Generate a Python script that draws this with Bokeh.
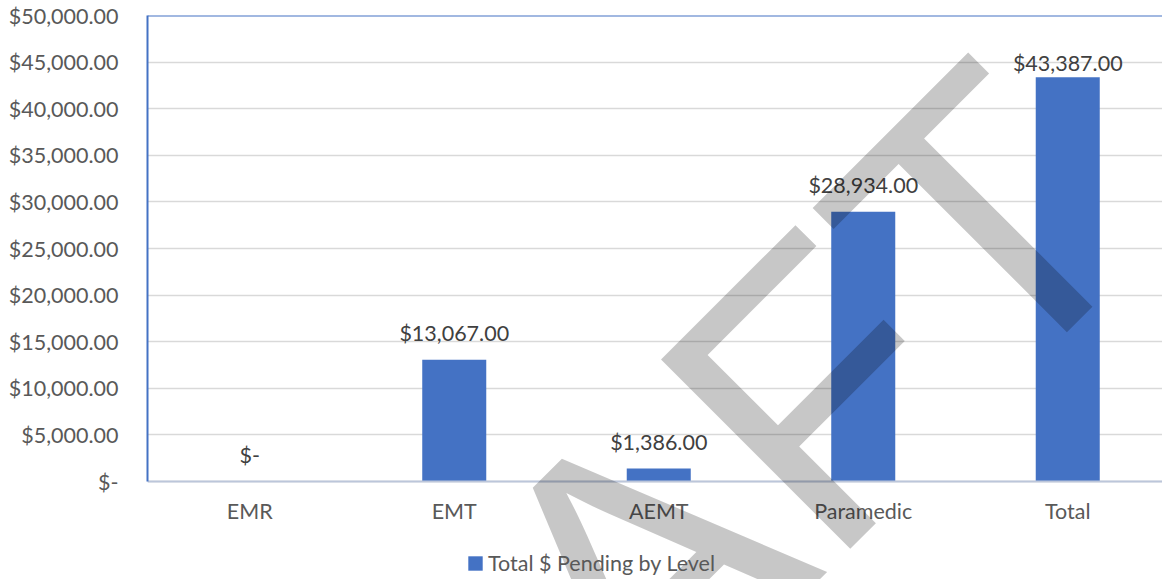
from bokeh.plotting import figure
from bokeh.models import (ColumnDataSource, Range1d, FixedTicker, NumeralTickFormatter,
                          LabelSet, Label, Span, Legend, LegendItem)
from bokeh.core.properties import value
from bokeh.embed import file_html
from bokeh.resources import INLINE

# ---- data ----
categories = ["EMR", "EMT", "AEMT", "Paramedic", "Total"]
pending = [0, 13067, 1386, 28934, 43387]
series_name = "Total $ Pending by Level"
y_ticks = list(range(0, 50001, 5000))
watermark = "DRAFT"

# ---- styling / layout ----
FONT = "Lato"
BLUE = "#4472C4"
AXIS_TXT = "#595959"
LABEL_TXT = "#404040"
FS = "21.5px"
label_lift = [19, 19, 19, 19, 6]      # px gap between bar top and its value label

W, H = 1162, 579
LEFT, TOP = 147, 15
PLOT_H = 466                            # px from 0 to 50,000
Y_MAX = 50000
below_px = H - TOP - PLOT_H             # room under the zero line (axis + legend)
y_start = -Y_MAX * below_px / PLOT_H
x_end = (W - LEFT) / 204.5

xs = [i + 0.5 for i in range(len(categories))]
labels = [f"${v:,.2f}" if v else "$-" for v in pending]
src = ColumnDataSource(dict(x=xs, top=pending, cat=categories, lab=labels, lift=label_lift))

p = figure(width=W, height=H, output_backend="svg", toolbar_location=None,
           x_range=Range1d(0, x_end), y_range=Range1d(y_start, Y_MAX),
           min_border_left=LEFT, min_border_top=TOP, min_border_right=0, min_border_bottom=0)
p.outline_line_color = None
p.background_fill_color = "white"
p.border_fill_color = "white"

r = p.vbar(x="x", top="top", width=0.313, source=src, fill_color=BLUE, line_color=None)

# x axis sits on the zero line
p.xaxis.fixed_location = 0
p.xaxis.ticker = FixedTicker(ticks=xs)
p.xaxis.major_label_overrides = {x: c for x, c in zip(xs, categories)}
p.xaxis.axis_line_color = "#BCC6DA"
p.xaxis.axis_line_width = 2
p.xaxis.major_tick_line_color = None
p.xaxis.minor_tick_line_color = None
p.xaxis.major_label_standoff = 10
p.xaxis.major_label_text_font = FONT
p.xaxis.major_label_text_font_size = FS
p.xaxis.major_label_text_color = AXIS_TXT

p.yaxis.ticker = FixedTicker(ticks=y_ticks)
p.yaxis.bounds = (0, Y_MAX)
p.yaxis.formatter = NumeralTickFormatter(format="$0,0.00")
p.yaxis.major_label_overrides = {0: "$-"}
p.yaxis.axis_line_color = BLUE
p.yaxis.axis_line_width = 2
p.yaxis.major_tick_line_color = None
p.yaxis.minor_tick_line_color = None
p.yaxis.major_label_standoff = 23
p.yaxis.major_label_text_font = FONT
p.yaxis.major_label_text_font_size = FS
p.yaxis.major_label_text_color = AXIS_TXT

p.xgrid.grid_line_color = None
p.ygrid.grid_line_color = "#D9D9D9"
p.ygrid.grid_line_width = 1.5

p.add_layout(Span(location=Y_MAX, dimension="width", line_color=BLUE, line_width=2))

# data labels
ls = LabelSet(x="x", y="top", text="lab", source=src, text_align="center",
              text_baseline="alphabetic", y_offset="lift",
              text_font=value(FONT), text_font_size=FS, text_color=LABEL_TXT)
p.add_layout(ls)

# legend
legend = Legend(items=[LegendItem(label=series_name, renderers=[r])],
                location=(319, 3), orientation="horizontal",
                border_line_color=None, background_fill_alpha=0,
                padding=0, margin=0, glyph_width=18, glyph_height=18,
                label_standoff=4, label_text_font=FONT, label_text_font_size=FS,
                label_text_color=AXIS_TXT)
p.add_layout(legend, "center")

# watermark (diagonal, semi-transparent)
wm = Label(x=2.261, y=-12532, text=watermark, angle=0.785398,
           text_align="center", text_baseline="alphabetic",
           text_font="Liberation Sans", text_font_size="389px",
           text_color="black", text_alpha=0.22)
p.add_layout(wm)

open("out.html", "w").write(file_html(p, INLINE))
